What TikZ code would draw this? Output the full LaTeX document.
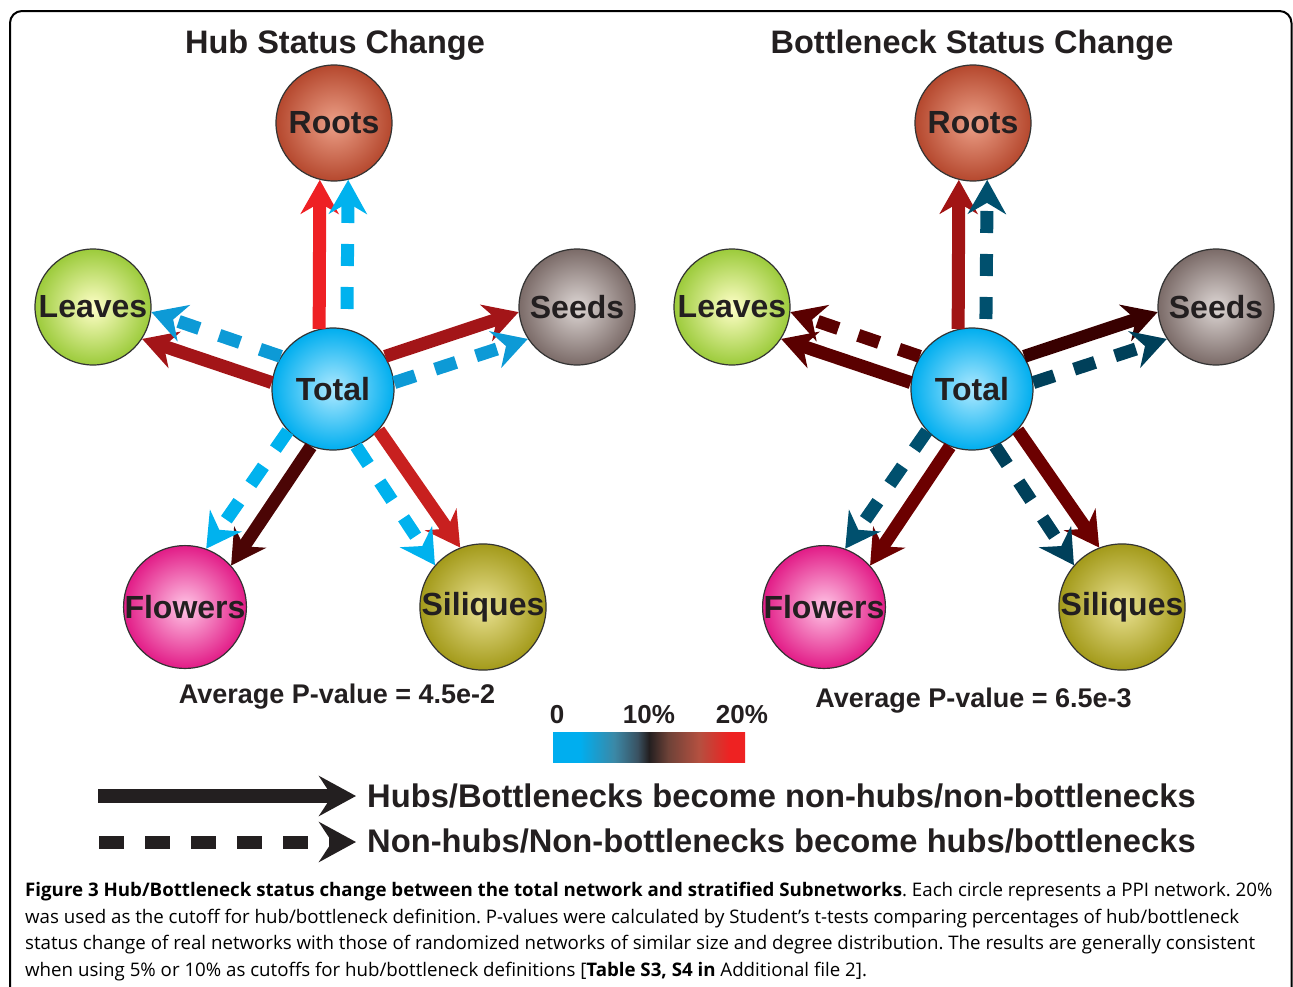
\documentclass[tikz,border=0pt]{standalone}
\usepackage{fontspec}
\setmainfont{Liberation Sans}
\newfontfamily\capfont{Open Sans}
\usetikzlibrary{arrows.meta,shadings}

\definecolor{txt}{HTML}{231F20}
\definecolor{rim}{HTML}{333333}
% circle fills
\definecolor{rootin}{HTML}{ECA088}\definecolor{rootout}{HTML}{B5482E}
\definecolor{leafin}{HTML}{FFFFC8}\definecolor{leafout}{HTML}{9CCB3B}
\definecolor{seedin}{HTML}{DDD6D4}\definecolor{seedout}{HTML}{7B6B68}
\definecolor{totin}{HTML}{AEE9FF}\definecolor{totout}{HTML}{00AEEF}
\definecolor{flowin}{HTML}{FFC6E6}\definecolor{flowout}{HTML}{E21C87}
\definecolor{siliin}{HTML}{EAE293}\definecolor{siliout}{HTML}{A39A1A}
% arrow colours
\definecolor{hubred}{HTML}{EE2024}
\definecolor{hubdark}{HTML}{A31518}
\definecolor{hubdeep}{HTML}{4B0505}
\definecolor{hubbrick}{HTML}{C8201F}
\definecolor{hubcyan}{HTML}{00B2EE}
\definecolor{hubblue}{HTML}{0D9AD6}
\definecolor{bnred}{HTML}{A11414}
\definecolor{bnmaroon}{HTML}{5A0000}
\definecolor{bnblack}{HTML}{380000}
\definecolor{bnwine}{HTML}{6C0000}
\definecolor{bnteal}{HTML}{00506E}
\definecolor{bnnavy}{HTML}{00405A}
% colour bar
\definecolor{barcyan}{HTML}{00AEEF}
\definecolor{barteal}{HTML}{3B88A6}
\definecolor{bargray}{HTML}{3A5262}
\definecolor{barbrown}{HTML}{6E4238}
\definecolor{barrust}{HTML}{B45040}
\definecolor{barred}{HTML}{EE2222}
\pgfdeclarehorizontalshading{pbar}{100bp}{color(0bp)=(barcyan); color(25bp)=(barcyan); color(32bp)=(barcyan); color(41bp)=(barteal); color(47bp)=(bargray); color(50bp)=(txt); color(55bp)=(barbrown); color(63bp)=(barrust); color(71bp)=(barred); color(100bp)=(barred)}

\begin{document}
\begin{tikzpicture}[x=1pt,y=-1pt,
	circ/.style={circle,draw=rim,line width=1.2pt,minimum size=116pt,inner sep=0pt,
		shading=radial,text=txt,font=\fontsize{32}{32}\selectfont\bfseries},
	solidarr/.style={line width=13pt,-{Stealth[length=34pt,width=38pt,inset=11pt]}},
	dasharr/.style={solidarr,dash pattern=on 22pt off 21pt},
	bigtext/.style={text=txt,font=\fontsize{#1}{#1}\selectfont\bfseries,inner sep=0pt}]
	\useasboundingbox (0,0) rectangle (1293,986);
	\draw [line width=2pt,rounded corners=12pt] (10,1010) -- (10,11) -- (1291.5,11) -- (1291.5,1010);

	% titles
	\node [bigtext=32.5,anchor=base] (htitle) at (335,53) {Hub Status Change};
	\node [bigtext=32.5,anchor=base] (btitle) at (972,53) {Bottleneck Status Change};

	% hub network
	\node [circ,inner color=rootin,outer color=rootout] (hroot) at (334,123) {Roots};
	\node [circ,inner color=leafin,outer color=leafout] (hleaf) at (93,307) {Leaves};
	\node [circ,inner color=seedin,outer color=seedout] (hseed) at (577,307) {Seeds};
	\node [circ,inner color=totin,outer color=totout,minimum size=122pt] (htot) at (333,389) {Total};
	\node [circ,inner color=flowin,outer color=flowout] (hflow) at (185,607) {Flowers};
	\node [circ,inner color=siliin,outer color=siliout] (hsili) at (483,607) {Siliques};

	\draw [solidarr,hubred] (htot.103) -- (hroot.256);
	\draw [dasharr,hubcyan,shorten <=20pt] (htot.77) -- (hroot.284);
	\draw [solidarr,hubdark] (htot.174) -- (hleaf.327);
	\draw [dasharr,hubblue] (htot.148) -- (hleaf.355);
	\draw [solidarr,hubdark] (htot.32) -- (hseed.185);
	\draw [dasharr,hubblue] (htot.6) -- (hseed.213);
	\draw [solidarr,hubdeep] (htot.249) -- (hflow.42);
	\draw [dasharr,hubcyan] (htot.223) -- (hflow.70);
	\draw [solidarr,hubbrick] (htot.318) -- (hsili.111);
	\draw [dasharr,hubcyan] (htot.292) -- (hsili.139);

	% bottleneck network
	\node [circ,inner color=rootin,outer color=rootout] (broot) at (973,123) {Roots};
	\node [circ,inner color=leafin,outer color=leafout] (bleaf) at (732,307) {Leaves};
	\node [circ,inner color=seedin,outer color=seedout] (bseed) at (1216,307) {Seeds};
	\node [circ,inner color=totin,outer color=totout,minimum size=122pt] (btot) at (972,389) {Total};
	\node [circ,inner color=flowin,outer color=flowout] (bflow) at (824,607) {Flowers};
	\node [circ,inner color=siliin,outer color=siliout] (bsili) at (1122,607) {Siliques};

	\draw [solidarr,bnred] (btot.103) -- (broot.256);
	\draw [dasharr,bnteal,shorten <=10pt] (btot.77) -- (broot.284);
	\draw [solidarr,bnmaroon] (btot.174) -- (bleaf.327);
	\draw [dasharr,bnmaroon] (btot.148) -- (bleaf.355);
	\draw [solidarr,bnblack] (btot.32) -- (bseed.185);
	\draw [dasharr,bnnavy] (btot.6) -- (bseed.213);
	\draw [solidarr,bnwine] (btot.249) -- (bflow.42);
	\draw [dasharr,bnteal] (btot.223) -- (bflow.70);
	\draw [solidarr,bnwine] (btot.318) -- (bsili.111);
	\draw [dasharr,bnnavy] (btot.292) -- (bsili.139);

	% p-values and colour bar
	\node [bigtext=27,anchor=base] (hpval) at (337,703) {Average P-value = 4.5e-2};
	\node [bigtext=27,anchor=base] (bpval) at (973.5,707) {Average P-value = 6.5e-3};
	\node [shading=pbar,minimum width=192pt,minimum height=30pt,inner sep=0pt] (bar) at (649,747) {};
	\node [bigtext=26,anchor=base] (bar0) at (557,723) {0};
	\node [bigtext=26,anchor=base] (bar10) at (649,723) {10\%};
	\node [bigtext=26,anchor=base] (bar20) at (742,723) {20\%};

	% legend
	\coordinate (solidA) at (98,796);
	\coordinate (solidB) at (356,796);
	\coordinate (dashA) at (99,842);
	\coordinate (dashB) at (356,842);
	\draw [txt,line width=14pt,-{Stealth[length=37pt,width=40pt,inset=13pt]}] (solidA) -- (solidB);
	\draw [txt,line width=13pt,dash pattern=on 25pt off 21pt,-{Stealth[length=37pt,width=40pt,inset=13pt]}] (dashA) -- (dashB);
	\node [bigtext=32.7,anchor=base west] (soliddesc) at (367,807) {Hubs/Bottlenecks become non-hubs/non-bottlenecks};
	\node [bigtext=32.7,anchor=base west] (dashdesc) at (367,852) {Non-hubs/Non-bottlenecks become hubs/bottlenecks};

	% caption
	\node [anchor=north west,inner sep=0pt,align=left,font=\capfont\fontsize{18.7}{26.5}\selectfont\frenchspacing] (caption) at (25,882)
		{\textbf{Figure 3 Hub/Bottleneck status change between the total network and stratified Subnetworks}. Each circle represents a PPI network. 20\%\\
		was used as the cutoff for hub/bottleneck definition. P-values were calculated by Student’s t-tests comparing percentages of hub/bottleneck\\
		status change of real networks with those of randomized networks of similar size and degree distribution. The results are generally consistent\\
		when using 5\% or 10\% as cutoffs for hub/bottleneck definitions [\textbf{Table S3, S4 in} Additional file 2].};
\end{tikzpicture}
\end{document}
